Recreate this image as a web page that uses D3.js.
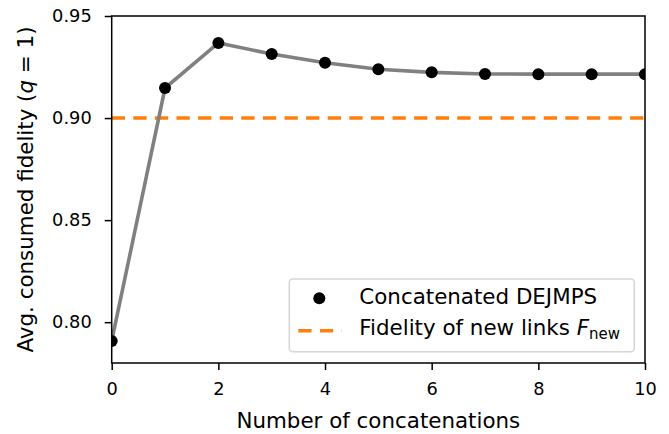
<!DOCTYPE html>
<html>
<head>
<meta charset="utf-8">
<script src="https://cdn.jsdelivr.net/npm/d3@7"></script>
<style>
  body { margin: 0; background: #fff; }
  text { font-family: "DejaVu Sans", sans-serif; fill: #000; }
</style>
</head>
<body>
<div id="chart"></div>
<script>
// data
var concatenations = [0, 1, 2, 3, 4, 5, 6, 7, 8, 9, 10];
var avgFidelity = [0.7908, 0.9147, 0.9368, 0.9314, 0.9271, 0.9239, 0.9224, 0.9216, 0.9215, 0.9215, 0.9215];
var newLinkFidelity = 0.90;
var xTicks = [0, 2, 4, 6, 8, 10];
var yTicks = [0.80, 0.85, 0.90, 0.95];

var W = 669, H = 434;
var margin = {top: 16, right: 24, bottom: 71, left: 111.7};

var svg = d3.select("#chart").append("svg")
    .attr("width", W)
    .attr("height", H);

var xScale = d3.scaleLinear().domain([0, 10]).range([margin.left, W - margin.right]);
var yScale = d3.scaleLinear().domain([0.78, 0.95]).range([H - margin.bottom, margin.top]);

var tickFont = 17.8;
var labelFont = 21.4;

// clip marks to the axes area, like matplotlib
svg.append("clipPath")
    .attr("id", "plotclip")
    .append("rect")
    .attr("x", margin.left)
    .attr("y", margin.top)
    .attr("width", W - margin.left - margin.right)
    .attr("height", H - margin.top - margin.bottom);

var plot = svg.append("g").attr("clip-path", "url(#plotclip)");

// fidelity of new links
plot.append("line")
    .attr("x1", xScale(0)).attr("x2", xScale(10))
    .attr("y1", yScale(newLinkFidelity)).attr("y2", yScale(newLinkFidelity))
    .style("stroke", "#ff7f0e")
    .style("stroke-width", 3.6)
    .style("stroke-dasharray", "13.3,8.3");

// concatenated DEJMPS curve
var line = d3.line()
    .x(function(d, i) { return xScale(concatenations[i]); })
    .y(function(d) { return yScale(d); });

plot.append("path")
    .datum(avgFidelity)
    .attr("d", line)
    .style("fill", "none")
    .style("stroke", "grey")
    .style("stroke-width", 3.6);

plot.selectAll("circle.pt")
    .data(avgFidelity)
    .enter().append("circle")
    .attr("class", "pt")
    .attr("cx", function(d, i) { return xScale(concatenations[i]); })
    .attr("cy", function(d) { return yScale(d); })
    .attr("r", 6)
    .style("fill", "#000");

// axes
var xAxis = d3.axisBottom(xScale).tickValues(xTicks).tickSize(7).tickPadding(12).tickFormat(d3.format("d"));
var yAxis = d3.axisLeft(yScale).tickValues(yTicks).tickSize(7).tickPadding(13).tickFormat(d3.format(".2f"));

var gx = svg.append("g")
    .attr("transform", "translate(0," + (H - margin.bottom) + ")")
    .call(xAxis);
var gy = svg.append("g")
    .attr("transform", "translate(" + margin.left + ",0)")
    .call(yAxis);

[gx, gy].forEach(function(g) {
    g.select(".domain").remove();
    g.selectAll(".tick line").style("stroke", "#000").style("stroke-width", 1.5);
    g.selectAll(".tick text")
        .style("font-family", "DejaVu Sans")
        .style("font-size", tickFont + "px")
        .style("fill", "#000");
});

// spines
svg.append("rect")
    .attr("x", margin.left)
    .attr("y", margin.top)
    .attr("width", W - margin.left - margin.right)
    .attr("height", H - margin.top - margin.bottom)
    .style("fill", "none")
    .style("stroke", "#000")
    .style("stroke-width", 1.5);

// axis labels
svg.append("text")
    .attr("x", (xScale(0) + xScale(10)) / 2)
    .attr("y", 428)
    .attr("text-anchor", "middle")
    .style("font-size", labelFont + "px")
    .text("Number of concatenations");

var yl = svg.append("text")
    .attr("transform", "translate(33.3," + ((yScale(0.78) + yScale(0.95)) / 2) + ") rotate(-90)")
    .attr("text-anchor", "middle")
    .style("font-size", labelFont + "px");
yl.append("tspan").text("Avg. consumed fidelity (");
yl.append("tspan").style("font-style", "italic").text("q");
yl.append("tspan").text(" = 1)");

// legend
var lg = svg.append("g");
lg.append("rect")
    .attr("x", 289.3).attr("y", 279)
    .attr("width", 345).attr("height", 72.7)
    .attr("rx", 3.5).attr("ry", 3.5)
    .style("fill", "#fff")
    .style("fill-opacity", 0.8)
    .style("stroke", "#d6d6d6")
    .style("stroke-width", 1.5);

lg.append("circle")
    .attr("cx", 319.3).attr("cy", 298.3).attr("r", 6)
    .style("fill", "#000");
lg.append("line")
    .attr("x1", 298.3).attr("x2", 341.7)
    .attr("y1", 330.7).attr("y2", 330.7)
    .style("stroke", "#ff7f0e")
    .style("stroke-width", 3.6)
    .style("stroke-dasharray", "13.3,8.3");

lg.append("text")
    .attr("x", 359.3).attr("y", 304.3)
    .style("font-size", labelFont + "px")
    .text("Concatenated DEJMPS");

var t2 = lg.append("text")
    .attr("x", 359.3).attr("y", 335.3)
    .style("font-size", labelFont + "px");
t2.append("tspan").text("Fidelity of new links ");
t2.append("tspan").style("font-style", "italic").text("F");
t2.append("tspan").attr("dy", 3.2).style("font-size", "15px").text("new");
</script>
</body>
</html>
